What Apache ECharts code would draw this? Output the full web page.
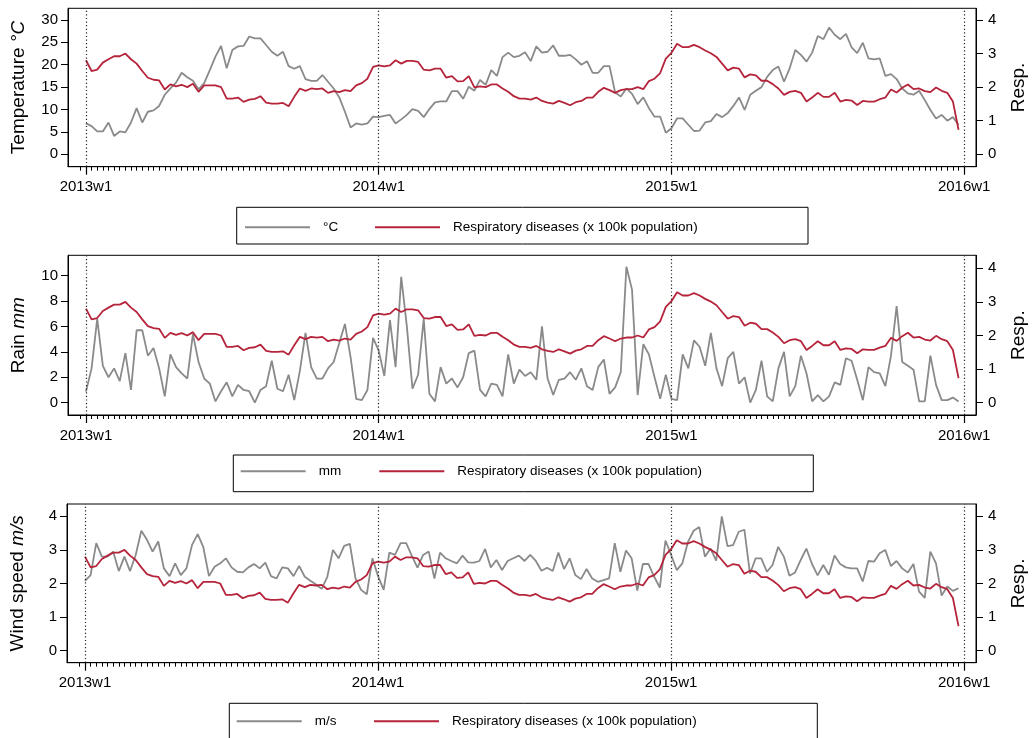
<!DOCTYPE html>
<html>
<head>
<meta charset="utf-8">
<script src="https://cdn.jsdelivr.net/npm/echarts@6/dist/echarts.min.js"></script>
<style>
  html, body { margin: 0; padding: 0; background: #fff; }
  #chart { width: 1036px; height: 738px; }
</style>
</head>
<body>
<div id="chart"></div>
<script>
// ---------------- DATA (weekly, 2013w1 .. 2015w52) ----------------
const yearTickWeeks = [0, 52, 104, 156];
const yearTickLabels = ['2013w1', '2014w1', '2015w1', '2016w1'];

const temperature = [
  6.9, 6.3, 5.1, 5.1, 7.1, 4.1, 5.1, 4.9, 7.1, 10.3, 7.1, 9.5, 9.8, 10.8, 13.3, 14.7, 16.0, 18.2, 17.2, 16.4,
  14.5, 15.9, 18.8, 21.8, 24.2, 19.2, 23.3, 24.1, 24.2, 26.3, 25.9, 25.9, 24.4, 22.9, 22.0, 22.9, 19.7, 19.1, 19.7, 16.8,
  16.4, 16.4, 17.7, 16.2, 14.7, 12.7, 9.5, 6.0, 6.9, 6.6, 6.9, 8.4,
  8.3, 8.6, 8.8, 6.9, 7.8, 8.8, 10.1, 9.7, 8.3, 10.1, 11.6, 11.8, 11.8, 14.1, 14.1, 12.4, 15.1, 14.2, 16.6, 15.5,
  18.8, 17.5, 21.7, 22.7, 21.7, 22.0, 22.8, 20.8, 24.1, 22.7, 22.9, 24.3, 22.0, 22.0, 22.2, 21.2, 20.0, 20.8, 18.2, 18.2,
  19.7, 19.7, 13.8, 12.9, 14.7, 13.5, 11.2, 12.7, 10.3, 8.4, 8.4, 4.8,
  5.8, 8.0, 8.0, 6.6, 5.2, 5.3, 7.1, 7.4, 9.0, 8.3, 9.2, 10.8, 12.7, 9.9, 13.3, 14.2, 15.0, 17.3, 18.8, 19.6,
  16.2, 19.2, 23.3, 22.2, 20.7, 22.7, 26.4, 25.7, 28.3, 26.7, 25.7, 26.9, 23.9, 22.6, 24.9, 21.4, 21.2, 21.4, 17.5, 17.9,
  16.8, 14.7, 13.6, 13.3, 14.2, 12.1, 9.9, 8.0, 8.8, 7.5, 8.3, 6.6
];

const rain = [
  0.87, 2.7, 6.6, 2.9, 2.0, 2.7, 1.7, 3.9, 1.0, 5.7, 5.7, 3.7, 4.3, 2.7, 0.5, 3.8, 2.8, 2.3, 1.9, 5.4,
  3.2, 1.9, 1.5, 0.1, 0.9, 1.6, 0.5, 1.4, 1.0, 0.9, 0.0, 1.0, 1.3, 3.3, 1.1, 0.9, 2.2, 0.2, 2.5, 5.5,
  2.8, 1.9, 1.9, 2.7, 3.2, 4.7, 6.2, 3.6, 0.3, 0.2, 1.0, 5.1,
  4.1, 2.1, 6.5, 2.8, 9.9, 6.0, 1.1, 2.2, 6.6, 0.7, 0.1, 2.8, 1.5, 1.9, 1.2, 2.0, 3.9, 4.1, 1.0, 0.5,
  1.5, 1.4, 0.5, 3.8, 1.5, 2.6, 2.1, 2.4, 1.8, 6.0, 1.9, 0.6, 1.8, 1.9, 2.4, 1.8, 2.7, 1.3, 1.0, 2.8,
  3.4, 0.7, 1.2, 2.4, 10.7, 8.9, 0.6, 4.6, 3.8, 2.0, 0.3, 2.2,
  0.3, 0.2, 3.8, 2.7, 4.9, 4.4, 2.9, 5.5, 2.7, 1.3, 3.5, 4.0, 1.5, 2.0, 0.0, 1.0, 3.3, 0.5, 0.1, 2.7,
  4.0, 0.5, 1.3, 3.7, 2.3, 0.1, 0.6, 0.1, 0.5, 1.6, 1.4, 3.5, 3.3, 1.8, 0.2, 2.8, 2.4, 2.3, 1.3, 3.7,
  7.6, 3.2, 2.9, 2.6, 0.1, 0.1, 3.7, 1.4, 0.2, 0.2, 0.4, 0.1
];

const windSpeed = [
  2.08, 2.25, 3.2, 2.8, 2.8, 2.95, 2.37, 2.8, 2.37, 2.85, 3.57, 3.3, 2.95, 3.25, 2.45, 2.22, 2.6, 2.25, 2.45, 3.15,
  3.47, 3.08, 2.22, 2.5, 2.6, 2.75, 2.48, 2.35, 2.33, 2.48, 2.58, 2.45, 2.62, 2.22, 2.15, 2.48, 2.45, 2.22, 2.52, 2.2,
  2.08, 1.97, 1.84, 2.2, 3.0, 2.75, 3.12, 3.18, 2.15, 1.81, 1.68, 2.75,
  2.22, 1.81, 2.92, 2.85, 3.2, 3.2, 2.82, 2.47, 2.85, 2.95, 2.15, 2.92, 2.75, 2.67, 2.6, 2.83, 2.63, 2.62, 2.67, 3.03,
  2.48, 2.7, 2.4, 2.67, 2.75, 2.83, 2.67, 2.85, 2.67, 2.38, 2.47, 2.37, 2.92, 2.43, 2.75, 2.25, 2.13, 2.43, 2.15, 2.05,
  2.1, 2.15, 3.2, 2.35, 2.98, 2.75, 1.79, 2.58, 2.58, 2.2, 1.88, 3.28,
  2.85, 2.4, 2.6, 3.24, 3.57, 3.68, 2.8, 3.04, 2.68, 4.0, 3.11, 3.14, 3.54, 3.6, 2.29, 2.75, 2.75, 2.35, 2.55, 3.09,
  2.8, 2.23, 2.33, 2.7, 3.04, 2.58, 2.24, 2.55, 2.26, 2.83, 2.58, 2.48, 2.45, 2.45, 2.06, 2.67, 2.65, 2.9, 3.0, 2.52,
  2.67, 2.45, 2.33, 2.58, 1.76, 1.57, 2.95, 2.6, 1.64, 1.91, 1.78, 1.86
];

const respiratory = [
  2.80, 2.48, 2.52, 2.73, 2.83, 2.92, 2.92, 3.00, 2.83, 2.70, 2.48, 2.28, 2.22, 2.20, 1.93, 2.08, 2.02, 2.07, 2.00, 2.10,
  1.86, 2.05, 2.05, 2.05, 2.00, 1.66, 1.66, 1.69, 1.56, 1.63, 1.65, 1.73, 1.54, 1.51, 1.51, 1.53, 1.43, 1.71, 1.96, 1.89,
  1.96, 1.94, 1.96, 1.83, 1.88, 1.85, 1.91, 1.88, 2.05, 2.12, 2.25, 2.60,
  2.65, 2.62, 2.65, 2.80, 2.70, 2.78, 2.78, 2.75, 2.52, 2.50, 2.55, 2.55, 2.28, 2.33, 2.17, 2.18, 2.33, 1.99, 2.02, 2.00,
  2.08, 2.08, 1.96, 1.86, 1.73, 1.66, 1.66, 1.63, 1.69, 1.59, 1.54, 1.51, 1.59, 1.53, 1.46, 1.55, 1.59, 1.69, 1.69, 1.86,
  1.98, 1.91, 1.83, 1.91, 1.94, 1.94, 2.00, 1.94, 2.18, 2.25, 2.42, 2.85,
  3.02, 3.29, 3.19, 3.19, 3.26, 3.19, 3.09, 3.01, 2.90, 2.70, 2.50, 2.58, 2.55, 2.29, 2.38, 2.35, 2.19, 2.19, 2.09, 1.96,
  1.77, 1.86, 1.89, 1.83, 1.57, 1.69, 1.83, 1.71, 1.71, 1.83, 1.57, 1.62, 1.60, 1.47, 1.59, 1.57, 1.57, 1.64, 1.69, 1.93,
  1.84, 1.98, 2.08, 1.94, 1.96, 1.88, 1.85, 1.99, 1.89, 1.83, 1.57, 0.73
];

const leftTicksTemp = [0, 5, 10, 15, 20, 25, 30];
const leftTicksRain = [0, 2, 4, 6, 8, 10];
const leftTicksWind = [0, 1, 2, 3, 4];
const rightTicksResp = [0, 1, 2, 3, 4];

const respName = 'Respiratory diseases (x 100k population)';

// ---------------- STYLE / LAYOUT ----------------
const FONT = "'Liberation Sans', Arial, Helvetica, sans-serif";
const GRAY = '#8a8a8a';
const RED = '#b5243b';
const INK = '#000';

const panels = [
  {
    grid: { left: 68, top: 8.3, width: 916.3, height: 158.4 },
    yL: { min: -2.77, max: 32.6, ticks: leftTicksTemp },
    yR: { min: -0.369, max: 4.347 },
    name: '{a|Temperature }{b|°C}',
    unit: '°C', values: temperature,
    box: { x: 236.7, y: 207.3, w: 571.3, h: 36.7 },
    item1: 245, item2: 375, itemY: 228.3
  },
  {
    grid: { left: 68, top: 255.3, width: 916.3, height: 159.7 },
    yL: { min: -0.97, max: 11.6, ticks: leftTicksRain },
    yR: { min: -0.366, max: 4.387 },
    name: '{a|Rain }{b|mm}',
    unit: 'mm', values: rain,
    box: { x: 233.3, y: 455, w: 580, h: 36.7 },
    item1: 240.7, item2: 379.3, itemY: 472.3
  },
  {
    grid: { left: 58.3, top: 504, width: 926, height: 158.7 },
    yL: { min: -0.357, max: 4.366, ticks: leftTicksWind },
    yR: { min: -0.357, max: 4.366 },
    name: '{a|Wind speed }{b|m/s}',
    unit: 'm/s', values: windSpeed,
    box: { x: 229.3, y: 703.3, w: 588, h: 40 },
    item1: 236.7, item2: 374, itemY: 722.3
  }
];

const XMIN = -3.19, XMAX = 158.1;
const weeklyTicks = [];
for (let w = -1; w <= 156; w++) weeklyTicks.push(w);

const grids = [], xAxes = [], yAxes = [], series = [], legends = [], graphics = [];

const tickText = { fontFamily: FONT, fontSize: 15, color: INK };

panels.forEach((p, g) => {
  grids.push(Object.assign({ show: true, borderColor: INK, borderWidth: 1, containLabel: false }, p.grid));

  // weekly minor ticks (also the bottom axis line)
  xAxes.push({
    type: 'value', gridIndex: g, min: XMIN, max: XMAX, position: 'bottom',
    axisLine: { show: true, onZero: false, lineStyle: { color: INK, width: 1 } },
    axisTick: { show: true, inside: false, length: 4, customValues: weeklyTicks, lineStyle: { color: INK, width: 1 } },
    axisLabel: { show: false },
    splitLine: { show: false }
  });
  // yearly major ticks + labels
  xAxes.push({
    type: 'value', gridIndex: g, min: XMIN, max: XMAX, position: 'bottom',
    axisLine: { show: false, onZero: false },
    axisTick: { show: true, inside: false, length: 8, customValues: yearTickWeeks, lineStyle: { color: INK, width: 1.2 } },
    axisLabel: {
      show: true, customValues: yearTickWeeks, margin: 13,
      formatter: v => yearTickLabels[yearTickWeeks.indexOf(Math.round(v))] || '',
      fontFamily: FONT, fontSize: 15, color: INK
    },
    splitLine: { show: false }
  });

  yAxes.push({
    type: 'value', gridIndex: g, position: 'left', min: p.yL.min, max: p.yL.max,
    axisLine: { show: true, onZero: false, lineStyle: { color: INK, width: 1 } },
    axisTick: { show: true, inside: false, length: 7, customValues: p.yL.ticks, lineStyle: { color: INK } },
    axisLabel: { show: true, customValues: p.yL.ticks, margin: 10, ...tickText },
    splitLine: { show: false },
    name: p.name, nameLocation: 'middle', nameRotate: 90, nameGap: 40,
    nameTextStyle: {
      color: INK,
      rich: {
        a: { fontFamily: FONT, fontSize: 19, color: INK },
        b: { fontFamily: FONT, fontSize: 19, fontStyle: 'italic', color: INK }
      }
    }
  });
  yAxes.push({
    type: 'value', gridIndex: g, position: 'right', min: p.yR.min, max: p.yR.max,
    axisLine: { show: true, onZero: false, lineStyle: { color: INK, width: 1 } },
    axisTick: { show: true, inside: false, length: 7, customValues: rightTicksResp, lineStyle: { color: INK } },
    axisLabel: { show: true, customValues: rightTicksResp, margin: 12, ...tickText },
    splitLine: { show: false },
    name: 'Resp.', nameLocation: 'middle', nameRotate: 90, nameGap: 33,
    nameTextStyle: { fontFamily: FONT, fontSize: 19, color: INK }
  });

  series.push({
    name: p.unit, type: 'line', xAxisIndex: 2 * g, yAxisIndex: 2 * g,
    data: p.values.map((v, i) => [i, v]),
    showSymbol: false, symbol: 'none',
    lineStyle: { color: GRAY, width: 1.8 }, itemStyle: { color: GRAY },
    z: 2,
    markLine: {
      silent: true, symbol: ['none', 'none'], animation: false,
      label: { show: false },
      lineStyle: { type: [1.2, 2.4], color: '#222', width: 1.2 },
      data: yearTickWeeks.map(w => ({ xAxis: w }))
    }
  });
  series.push({
    name: respName, type: 'line', xAxisIndex: 2 * g, yAxisIndex: 2 * g + 1,
    data: respiratory.map((v, i) => [i, v]),
    showSymbol: false, symbol: 'none',
    lineStyle: { color: RED, width: 1.8 }, itemStyle: { color: RED },
    z: 3
  });

  const legText = { fontFamily: FONT, fontSize: 13.5, color: INK, padding: [0, 0, 0, 8] };
  legends.push({
    left: p.item1, top: p.itemY - 8, padding: 0, itemGap: 0,
    itemWidth: 65, itemHeight: 2, icon: 'rect', selectedMode: false,
    data: [{ name: p.unit, itemStyle: { color: GRAY } }],
    textStyle: legText
  });
  legends.push({
    left: p.item2, top: p.itemY - 8, padding: 0, itemGap: 0,
    itemWidth: 65, itemHeight: 2, icon: 'rect', selectedMode: false,
    data: [{ name: respName, itemStyle: { color: RED } }],
    textStyle: legText
  });

  graphics.push({
    type: 'rect', silent: true, z: 0,
    shape: { x: p.box.x, y: p.box.y, width: p.box.w, height: p.box.h },
    style: { fill: '#fff', stroke: INK, lineWidth: 1 }
  });
});

const chart = echarts.init(document.getElementById('chart'), null, { renderer: 'canvas' });
chart.setOption({
  animation: false,
  backgroundColor: '#fff',
  textStyle: { fontFamily: FONT },
  grid: grids,
  xAxis: xAxes,
  yAxis: yAxes,
  series: series,
  legend: legends,
  graphic: graphics
});
</script>
</body>
</html>
